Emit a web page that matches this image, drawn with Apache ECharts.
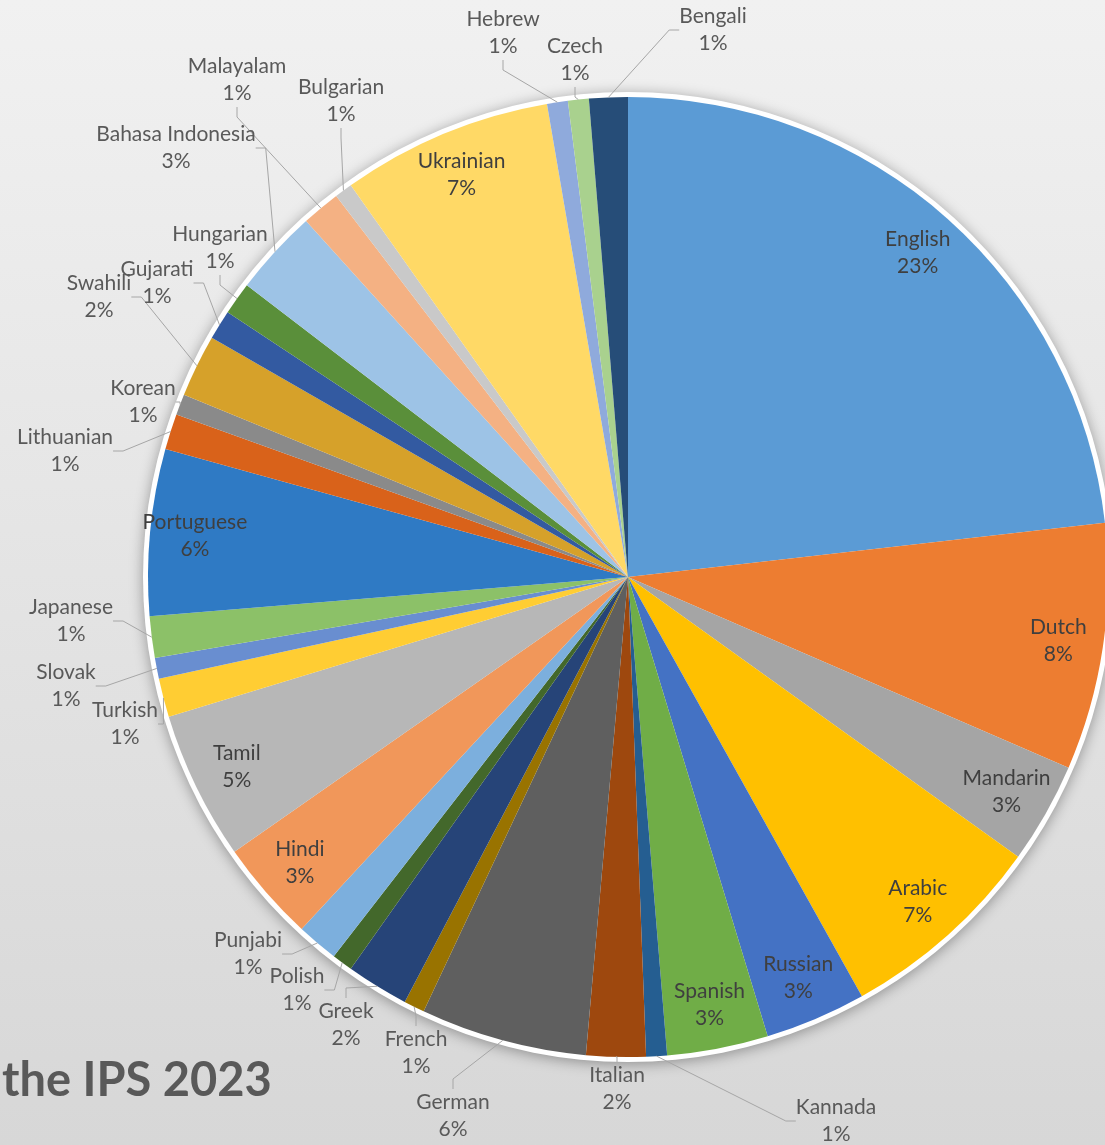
<!DOCTYPE html>
<html><head><meta charset="utf-8">
<script src="https://cdn.jsdelivr.net/npm/echarts@6/dist/echarts.min.js"></script>
<style>html,body{margin:0;padding:0;width:1105px;height:1145px;overflow:hidden;} #chart{width:1105px;height:1145px;}</style>
</head><body><div id="chart"></div>
<script>
// ---- data ----
const languages = ['English','Dutch','Mandarin','Arabic','Russian','Spanish','Kannada','Italian','German','French','Greek','Polish','Punjabi','Hindi','Tamil','Turkish','Slovak','Japanese','Portuguese','Lithuanian','Korean','Swahili','Gujarati','Hungarian','Bahasa Indonesia','Malayalam','Bulgarian','Ukrainian','Hebrew','Czech','Bengali'];
const shares = [23.2,8.3,3.4,7.0,3.4,3.4,0.7,2.0,5.6,0.7,2.1,0.7,1.4,3.4,5.0,1.3,0.7,1.4,5.6,1.2,0.7,2.1,1.0,1.1,2.9,1.3,0.6,7.1,0.7,0.7,1.3];
const sliceColors = ['#5b9bd5','#ed7d31','#a5a5a5','#ffc000','#4472c4','#70ad47','#255e91','#9e480e','#5f5f5f','#997300','#264478','#43682b','#7cafdd','#f1975a','#b7b7b7','#ffcd33','#698ed0','#8cc168','#2f7ac4','#d9621a','#8a8a8a','#d6a12a','#335aa1','#5a8f3a','#9dc3e6','#f4b183','#c9c9c9','#ffd966','#8faadc','#a9d18e','#264d78'];
const chartTitle = 'the IPS 2023';

// ---- layout (not data) ----
const CX = 628, CY = 577, R = 480;
const outsideLabelPos = {
  'Kannada':[836,1121], 'Italian':[617,1089], 'German':[453,1116], 'French':[416,1053],
  'Greek':[346,1025], 'Polish':[297,990], 'Punjabi':[248,954], 'Turkish':[125,724],
  'Slovak':[66,686], 'Japanese':[71,621], 'Lithuanian':[65,451], 'Korean':[143,402],
  'Swahili':[99,297], 'Gujarati':[157,283], 'Hungarian':[220,248], 'Bahasa Indonesia':[176,148],
  'Malayalam':[237,80], 'Bulgarian':[341,101], 'Hebrew':[503,33], 'Czech':[575,60], 'Bengali':[713,30]
};
const FONT = 'Lato, "Open Sans", sans-serif';

const chart = echarts.init(document.getElementById('chart'));
const pieData = languages.map((n, i) => ({ name: n, value: shares[i], itemStyle: { color: sliceColors[i] } }));
const ringData = languages.map((n, i) => {
  const outside = !!outsideLabelPos[n];
  return {
    name: n, value: shares[i],
    label: outside
      ? { position: 'outside', color: '#595959' }
      : { position: 'inside', color: '#3f3f3f' },
    labelLine: { show: outside }
  };
});

chart.setOption({
  backgroundColor: { type: 'linear', x: 0, y: 0, x2: 0, y2: 1,
    colorStops: [{ offset: 0, color: '#f1f1f1' }, { offset: 1, color: '#d7d7d7' }] },
  title: { text: chartTitle, left: -3, top: 1052,
    textStyle: { fontFamily: FONT, fontWeight: 'bold', fontSize: 47, color: '#595959' } },
  series: [
    { type: 'pie', center: [CX, CY], radius: R + 5, silent: true, z: 1,
      label: { show: false }, labelLine: { show: false },
      data: [{ value: 1, itemStyle: { color: '#ffffff', shadowBlur: 14, shadowColor: 'rgba(0,0,0,0.35)', shadowOffsetY: 2 } }] },
    { type: 'pie', center: [CX, CY], radius: R, startAngle: 90, clockwise: true, z: 2,
      silent: true, label: { show: false }, labelLine: { show: false }, data: pieData },
    { type: 'pie', center: [CX, CY], radius: [R * 0.8, R], startAngle: 90, clockwise: true, z: 3,
      silent: true, avoidLabelOverlap: false,
      itemStyle: { color: 'rgba(0,0,0,0)' },
      label: { show: true, fontFamily: FONT, fontSize: 21, lineHeight: 27, align: 'center',
        formatter: p => p.name + '\n' + Math.round(p.percent) + '%' },
      labelLine: { length: 10, length2: 10, lineStyle: { color: '#a6a6a6', width: 1 } },
      labelLayout: function (p) {
        const pos = outsideLabelPos[languages[p.dataIndex]];
        if (!pos) return {};
        return { x: pos[0], y: pos[1], align: 'center', verticalAlign: 'middle' };
      },
      data: ringData }
  ]
});
</script></body></html>
